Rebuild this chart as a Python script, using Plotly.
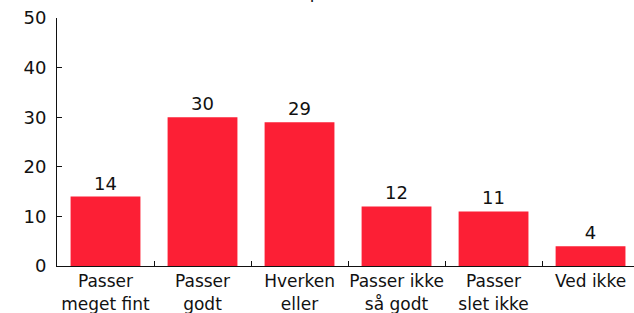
import plotly.graph_objects as go

categories = ["Passer<br>meget fint", "Passer<br>godt", "Hverken<br>eller",
              "Passer ikke<br>så godt", "Passer<br>slet ikke", "Ved ikke"]
values = [14, 30, 29, 12, 11, 4]
y_ticks = [0, 10, 20, 30, 40, 50]
title_text = "(i procent)"

FONT = "DejaVu Sans"
RED = "#FC1F35"

fig = go.Figure(go.Bar(
    x=categories, y=values, marker=dict(color=RED, line=dict(width=0)),
    text=[str(v) for v in values], textposition="outside",
    textfont=dict(family=FONT, size=18, color="#111"),
    cliponaxis=False, width=0.72,
))

fig.update_layout(
    width=634, height=313,
    margin=dict(l=57, r=0, t=18, b=47),
    paper_bgcolor="white", plot_bgcolor="white",
    showlegend=False,
    font=dict(family=FONT, size=17, color="#111"),
    xaxis=dict(
        type="category", range=[-0.5, 5.448], automargin=False,
        showline=True, linecolor="#111", linewidth=1,
        ticks="inside", ticklen=5, tickcolor="#111", tickson="boundaries",
        tickfont=dict(family=FONT, size=17, color="#111"),
        showgrid=False, ticklabelstandoff=0, tickangle=0,
    ),
    yaxis=dict(
        range=[0, 50], tickvals=y_ticks, automargin=False,
        showline=True, linecolor="#111", linewidth=1,
        ticks="inside", ticklen=5, tickcolor="#111",
        tickfont=dict(family=FONT, size=18, color="#111"),
        showgrid=False, zeroline=False, ticklabelstandoff=6,
    ),
    annotations=[dict(
        text=title_text, xref="paper", yref="paper", x=0.485, y=1,
        xanchor="center", yanchor="bottom", yshift=14, showarrow=False,
        font=dict(family=FONT, size=17, color="#111"),
    )],
)

fig.write_html("out.html", config={"displayModeBar": False},
               post_script="document.body.style.margin='0';document.body.style.overflow='hidden';")
